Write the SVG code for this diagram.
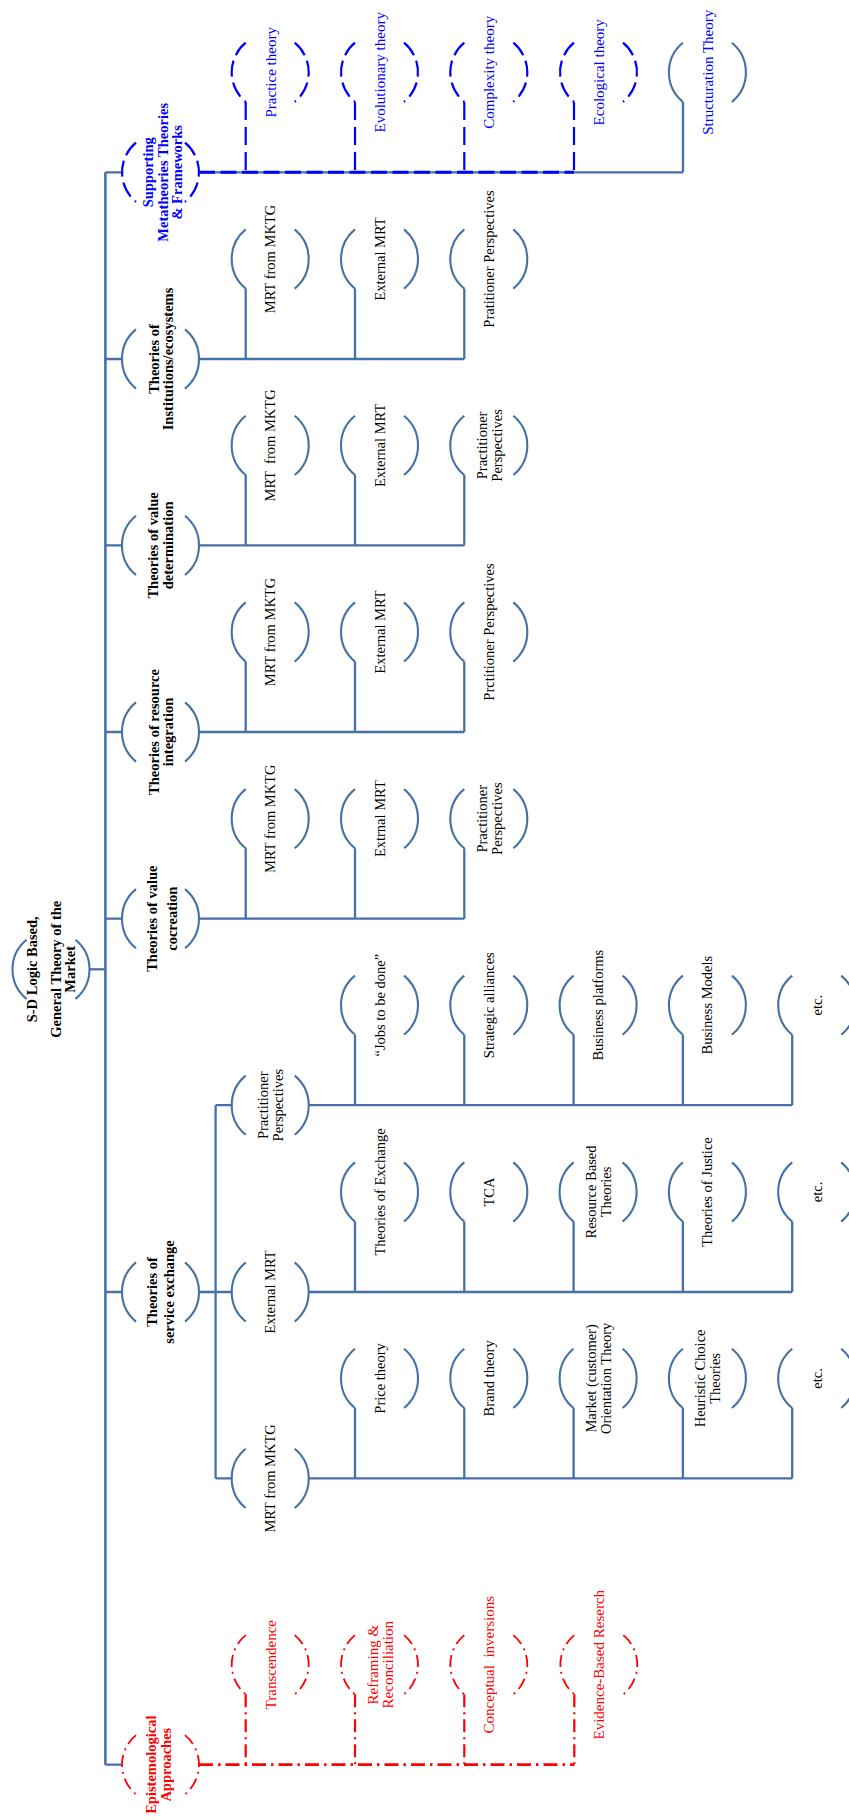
<svg xmlns="http://www.w3.org/2000/svg" xmlns:xlink="http://www.w3.org/1999/xlink" width="849" height="1820" viewBox="0 0 849 1820">
<style>
  .ln { fill: none; stroke: #4571A7; stroke-width: 2.3; }
  .tr { fill: none; stroke: #4571A7; stroke-width: 2.6; }
  .arc { fill: none; stroke: #4571A7; stroke-width: 2.1; }
  .barc { fill: none; stroke: #0000FF; stroke-width: 2.2; stroke-dasharray: 16 6; }
  .bln { fill: none; stroke: #0000FF; stroke-width: 3; stroke-dasharray: 16 5.5; }
  .bv { fill: none; stroke: #0000FF; stroke-width: 2.2; stroke-dasharray: 18 7; }
  .rarc { fill: none; stroke: #FF0000; stroke-width: 1.8; stroke-dasharray: 12 5 2 5; }
  .rln { fill: none; stroke: #FF0000; stroke-width: 2.8; stroke-dasharray: 14 5 2.5 5; }
  .rv { fill: none; stroke: #FF0000; stroke-width: 2.2; stroke-dasharray: 13 5 2 5; }
  text { font-family: "Liberation Serif", "DejaVu Serif", serif; text-anchor: middle; }
  .t { font-size: 14.5px; fill: #000; }
  .b { font-size: 14.5px; font-weight: bold; fill: #000; }
  .bb { font-size: 14.5px; font-weight: bold; fill: #0000FF; }
  .rb { font-size: 14.5px; font-weight: bold; fill: #FF0000; }
  .bt { font-size: 15px; fill: #0000FF; }
  .rt { font-size: 15px; fill: #FF0000; }
</style>
<defs>
  <path id="br" d="M-24.5,-29.6 A38.3,38.3 0 0 0 -24.5,29.6 M24.5,-29.6 A38.3,38.3 0 0 1 24.5,29.6"/>
</defs>

<g id="connectors">
  <!-- trunk -->
  <path class="tr" d="M105.4,172.3 V1764.7"/>
  <path class="ln" d="M89.5,969.3 H105.4"/>
  <path class="ln" d="M105.4,172.3 H122 M105.4,359 H122 M105.4,545.4 H122 M105.4,732 H122 M105.4,918.7 H122 M105.4,1292 H122 M105.4,1764.7 H122"/>
  <!-- supporting -->
  <path class="ln" d="M199,172.3 H683 M683,101.9 V172.3"/>
  <path class="bln" d="M199,172.3 H574"/>
  <path class="bv" d="M245.7,101.9 V172.3 M355,101.9 V172.3 M464.3,101.9 V172.3 M574,101.9 V172.3"/>
  <!-- institutions -->
  <path class="ln" d="M199,359 H464.3 M245.7,288.6 V359 M355,288.6 V359 M464.3,288.6 V359"/>
  <!-- value determination -->
  <path class="ln" d="M199,545.4 H464.3 M245.7,475 V545.4 M355,475 V545.4 M464.3,475 V545.4"/>
  <!-- resource integration -->
  <path class="ln" d="M199,732 H464.3 M245.7,661.6 V732 M355,661.6 V732 M464.3,661.6 V732"/>
  <!-- value cocreation -->
  <path class="ln" d="M199,918.7 H464.3 M245.7,848.3 V918.7 M355,848.3 V918.7 M464.3,848.3 V918.7"/>
  <!-- service exchange -->
  <path class="tr" d="M199,1292 H215.6"/>
  <path class="ln" d="M215.6,1105.2 V1478.4 M215.6,1105.2 H231.7 M215.6,1292 H231.7 M215.6,1478.4 H231.7"/>
  <path class="ln" d="M308.7,1105.2 H792.2 M355,1034.8 V1105.2 M464.3,1034.8 V1105.2 M573.6,1034.8 V1105.2 M682.9,1034.8 V1105.2 M792.2,1034.8 V1105.2"/>
  <path class="ln" d="M308.7,1292 H792.2 M355,1221.6 V1292 M464.3,1221.6 V1292 M573.6,1221.6 V1292 M682.9,1221.6 V1292 M792.2,1221.6 V1292"/>
  <path class="ln" d="M308.7,1478.4 H792.2 M355,1408 V1478.4 M464.3,1408 V1478.4 M573.6,1408 V1478.4 M682.9,1408 V1478.4 M792.2,1408 V1478.4"/>
  <!-- epistemological -->
  <path class="rln" d="M199,1764.7 H574.3"/>
  <path class="rv" d="M245.7,1694.3 V1764.7 M355,1694.3 V1764.7 M464.3,1694.3 V1764.7 M574.3,1694.3 V1764.7"/>
</g>

<!-- root -->
<g id="root">
  <use href="#br" x="51" y="969.3" class="arc"/>
  <text class="b" transform="translate(0,969.3) rotate(-90)"><tspan x="0" y="37">S-D Logic Based,</tspan><tspan x="0" y="60.5">General Theory of the</tspan><tspan x="0" y="74.5">Market</tspan></text>
</g>

<!-- Supporting -->
<g id="supporting">
  <use href="#br" x="160.5" y="172.3" class="barc"/>
  <text class="bb" transform="translate(0,172.3) rotate(-90)"><tspan x="0" y="153">Supporting</tspan><tspan x="0" y="167.5">Metatheories Theories</tspan><tspan x="0" y="182">&amp; Frameworks</tspan></text>
</g>
<g id="practice-theory">
  <use href="#br" x="270.2" y="72.3" class="barc"/>
  <text class="bt" transform="translate(0,72.3) rotate(-90)"><tspan x="0" y="275.5">Practice theory</tspan></text>
</g>
<g id="evolutionary-theory">
  <use href="#br" x="379.5" y="72.3" class="barc"/>
  <text class="bt" transform="translate(0,72.3) rotate(-90)"><tspan x="0" y="384.8">Evolutionary theory</tspan></text>
</g>
<g id="complexity-theory">
  <use href="#br" x="488.8" y="72.3" class="barc"/>
  <text class="bt" transform="translate(0,72.3) rotate(-90)"><tspan x="0" y="494.1">Complexity theory</tspan></text>
</g>
<g id="ecological-theory">
  <use href="#br" x="598.5" y="72.3" class="barc"/>
  <text class="bt" transform="translate(0,72.3) rotate(-90)"><tspan x="0" y="603.8">Ecological theory</tspan></text>
</g>
<g id="structuration-theory">
  <use href="#br" x="707.4" y="72.3" class="arc"/>
  <text class="bt" transform="translate(0,72.3) rotate(-90)"><tspan x="0" y="712.7">Structuration Theory</tspan></text>
</g>

<!-- Institutions -->
<g id="institutions">
  <use href="#br" x="160.5" y="359" class="arc"/>
  <text class="b" transform="translate(0,359) rotate(-90)"><tspan x="0" y="158.5">Theories of</tspan><tspan x="0" y="173">Institutions/ecosystems</tspan></text>
</g>
<g id="inst-mrt">
  <use href="#br" x="270.2" y="259" class="arc"/>
  <text class="t" transform="translate(0,259) rotate(-90)"><tspan x="0" y="275.2">MRT from MKTG</tspan></text>
</g>
<g id="inst-ext">
  <use href="#br" x="379.5" y="259" class="arc"/>
  <text class="t" transform="translate(0,259) rotate(-90)"><tspan x="0" y="384.5">External MRT</tspan></text>
</g>
<g id="inst-prac">
  <use href="#br" x="488.8" y="259" class="arc"/>
  <text class="t" transform="translate(0,259) rotate(-90)"><tspan x="0" y="493.8">Pratitioner Perspectives</tspan></text>
</g>

<!-- Value determination -->
<g id="value-determination">
  <use href="#br" x="160.5" y="545.4" class="arc"/>
  <text class="b" transform="translate(0,545.4) rotate(-90)"><tspan x="0" y="158.3">Theories of value</tspan><tspan x="0" y="172.7">determination</tspan></text>
</g>
<g id="vd-mrt">
  <use href="#br" x="270.2" y="445.4" class="arc"/>
  <text class="t" transform="translate(0,445.4) rotate(-90)" xml:space="preserve"><tspan x="0" y="275.2">MRT  from MKTG</tspan></text>
</g>
<g id="vd-ext">
  <use href="#br" x="379.5" y="445.4" class="arc"/>
  <text class="t" transform="translate(0,445.4) rotate(-90)"><tspan x="0" y="384.5">External MRT</tspan></text>
</g>
<g id="vd-prac">
  <use href="#br" x="488.8" y="445.4" class="arc"/>
  <text class="t" transform="translate(0,445.4) rotate(-90)"><tspan x="0" y="486.6">Practitioner</tspan><tspan x="0" y="501.6">Perspectives</tspan></text>
</g>

<!-- Resource integration -->
<g id="resource-integration">
  <use href="#br" x="160.5" y="732" class="arc"/>
  <text class="b" transform="translate(0,732) rotate(-90)"><tspan x="0" y="158.8">Theories of resource</tspan><tspan x="0" y="173">integration</tspan></text>
</g>
<g id="ri-mrt">
  <use href="#br" x="270.2" y="632" class="arc"/>
  <text class="t" transform="translate(0,632) rotate(-90)"><tspan x="0" y="275.2">MRT from MKTG</tspan></text>
</g>
<g id="ri-ext">
  <use href="#br" x="379.5" y="632" class="arc"/>
  <text class="t" transform="translate(0,632) rotate(-90)"><tspan x="0" y="384.5">External MRT</tspan></text>
</g>
<g id="ri-prac">
  <use href="#br" x="488.8" y="632" class="arc"/>
  <text class="t" transform="translate(0,632) rotate(-90)"><tspan x="0" y="493.8">Prctitioner Perspectives</tspan></text>
</g>

<!-- Value cocreation -->
<g id="value-cocreation">
  <use href="#br" x="160.5" y="918.7" class="arc"/>
  <text class="b" transform="translate(0,918.7) rotate(-90)"><tspan x="0" y="157">Theories of value</tspan><tspan x="0" y="176.5">cocreation</tspan></text>
</g>
<g id="vc-mrt">
  <use href="#br" x="270.2" y="818.7" class="arc"/>
  <text class="t" transform="translate(0,818.7) rotate(-90)"><tspan x="0" y="275.2">MRT from MKTG</tspan></text>
</g>
<g id="vc-ext">
  <use href="#br" x="379.5" y="818.7" class="arc"/>
  <text class="t" transform="translate(0,818.7) rotate(-90)"><tspan x="0" y="384.5">Extrnal MRT</tspan></text>
</g>
<g id="vc-prac">
  <use href="#br" x="488.8" y="818.7" class="arc"/>
  <text class="t" transform="translate(0,818.7) rotate(-90)"><tspan x="0" y="486.6">Practitioner</tspan><tspan x="0" y="501.6">Perspectives</tspan></text>
</g>

<!-- Service exchange -->
<g id="service-exchange">
  <use href="#br" x="160.5" y="1292" class="arc"/>
  <text class="b" transform="translate(0,1292) rotate(-90)"><tspan x="0" y="157.3">Theories of</tspan><tspan x="0" y="173.5">service exchange</tspan></text>
</g>
<g id="se-prac">
  <use href="#br" x="270.2" y="1105.2" class="arc"/>
  <text class="t" transform="translate(0,1105.2) rotate(-90)"><tspan x="0" y="267.9">Practitioner</tspan><tspan x="0" y="282.9">Perspectives</tspan></text>
</g>
<g id="se-ext">
  <use href="#br" x="270.2" y="1292" class="arc"/>
  <text class="t" transform="translate(0,1292) rotate(-90)"><tspan x="0" y="275.2">External MRT</tspan></text>
</g>
<g id="se-mrt">
  <use href="#br" x="270.2" y="1478.4" class="arc"/>
  <text class="t" transform="translate(0,1478.4) rotate(-90)"><tspan x="0" y="275.2">MRT from MKTG</tspan></text>
</g>

<!-- Practitioner row -->
<g id="jobs">
  <use href="#br" x="379.5" y="1005.2" class="arc"/>
  <text class="t" transform="translate(0,1005.2) rotate(-90)"><tspan x="0" y="384.5">“Jobs to be done”</tspan></text>
</g>
<g id="alliances">
  <use href="#br" x="488.8" y="1005.2" class="arc"/>
  <text class="t" transform="translate(0,1005.2) rotate(-90)"><tspan x="0" y="493.8">Strategic alliances</tspan></text>
</g>
<g id="platforms">
  <use href="#br" x="598.1" y="1005.2" class="arc"/>
  <text class="t" transform="translate(0,1005.2) rotate(-90)"><tspan x="0" y="603.1">Business platforms</tspan></text>
</g>
<g id="models">
  <use href="#br" x="707.4" y="1005.2" class="arc"/>
  <text class="t" transform="translate(0,1005.2) rotate(-90)"><tspan x="0" y="712.4">Business Models</tspan></text>
</g>
<g id="prac-etc">
  <use href="#br" x="816.7" y="1005.2" class="arc"/>
  <text class="t" transform="translate(0,1005.2) rotate(-90)"><tspan x="0" y="821.7">etc.</tspan></text>
</g>

<!-- External row -->
<g id="exchange">
  <use href="#br" x="379.5" y="1192" class="arc"/>
  <text class="t" transform="translate(0,1192) rotate(-90)"><tspan x="0" y="384.5">Theories of Exchange</tspan></text>
</g>
<g id="tca">
  <use href="#br" x="488.8" y="1192" class="arc"/>
  <text class="t" transform="translate(0,1192) rotate(-90)"><tspan x="0" y="493.8">TCA</tspan></text>
</g>
<g id="rbt">
  <use href="#br" x="598.1" y="1192" class="arc"/>
  <text class="t" transform="translate(0,1192) rotate(-90)"><tspan x="0" y="595.8">Resource Based</tspan><tspan x="0" y="610.8">Theories</tspan></text>
</g>
<g id="justice">
  <use href="#br" x="707.4" y="1192" class="arc"/>
  <text class="t" transform="translate(0,1192) rotate(-90)"><tspan x="0" y="712.4">Theories of Justice</tspan></text>
</g>
<g id="ext-etc">
  <use href="#br" x="816.7" y="1192" class="arc"/>
  <text class="t" transform="translate(0,1192) rotate(-90)"><tspan x="0" y="821.7">etc.</tspan></text>
</g>

<!-- MRT row -->
<g id="price">
  <use href="#br" x="379.5" y="1378.4" class="arc"/>
  <text class="t" transform="translate(0,1378.4) rotate(-90)"><tspan x="0" y="384.5">Price theory</tspan></text>
</g>
<g id="brand">
  <use href="#br" x="488.8" y="1378.4" class="arc"/>
  <text class="t" transform="translate(0,1378.4) rotate(-90)"><tspan x="0" y="493.8">Brand theory</tspan></text>
</g>
<g id="market-orientation">
  <use href="#br" x="598.1" y="1378.4" class="arc"/>
  <text class="t" transform="translate(0,1378.4) rotate(-90)"><tspan x="0" y="595.8">Market (customer)</tspan><tspan x="0" y="610.8">Orientation Theory</tspan></text>
</g>
<g id="heuristic">
  <use href="#br" x="707.4" y="1378.4" class="arc"/>
  <text class="t" transform="translate(0,1378.4) rotate(-90)"><tspan x="0" y="705.1">Heuristic Choice</tspan><tspan x="0" y="720.1">Theories</tspan></text>
</g>
<g id="mrt-etc">
  <use href="#br" x="816.7" y="1378.4" class="arc"/>
  <text class="t" transform="translate(0,1378.4) rotate(-90)"><tspan x="0" y="821.7">etc.</tspan></text>
</g>

<!-- Epistemological -->
<g id="epistemological">
  <use href="#br" x="160.5" y="1764.7" class="rarc"/>
  <text class="rb" transform="translate(0,1764.7) rotate(-90)"><tspan x="0" y="156">Epistemological</tspan><tspan x="0" y="170.5">Approaches</tspan></text>
</g>
<g id="transcendence">
  <use href="#br" x="270.2" y="1664.7" class="rarc"/>
  <text class="rt" transform="translate(0,1664.7) rotate(-90)"><tspan x="0" y="275.7">Transcendence</tspan></text>
</g>
<g id="reframing">
  <use href="#br" x="379.5" y="1664.7" class="rarc"/>
  <text class="rt" transform="translate(0,1664.7) rotate(-90)"><tspan x="0" y="377.5">Reframing &amp;</tspan><tspan x="0" y="392.5">Reconciliation</tspan></text>
</g>
<g id="inversions">
  <use href="#br" x="488.8" y="1664.7" class="rarc"/>
  <text class="rt" transform="translate(0,1664.7) rotate(-90)" xml:space="preserve"><tspan x="0" y="494.3">Conceptual  inversions</tspan></text>
</g>
<g id="evidence">
  <use href="#br" x="598.8" y="1664.7" class="rarc"/>
  <text class="rt" transform="translate(0,1664.7) rotate(-90)"><tspan x="0" y="604.3">Evidence-Based Reserch</tspan></text>
</g>
</svg>
